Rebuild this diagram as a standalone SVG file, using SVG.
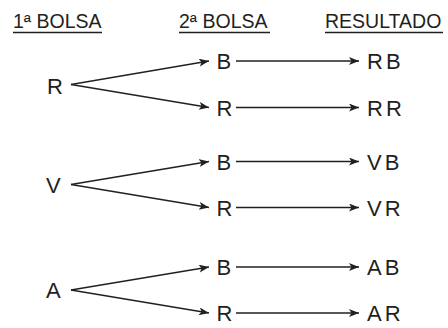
<svg xmlns="http://www.w3.org/2000/svg" width="448" height="328" viewBox="0 0 448 328">
<defs>
<style>
.h{font-family:"Liberation Sans",Arial,sans-serif;font-size:19.5px;fill:#231f20}
.n{font-family:"Liberation Sans",Arial,sans-serif;font-size:22px;fill:#231f20}
.r{letter-spacing:3px}
.u{stroke:#231f20;stroke-width:1.3}
.e{stroke:#231f20;stroke-width:1.3;fill:none;marker-end:url(#ah)}
</style>
<marker id="ah" markerUnits="userSpaceOnUse" markerWidth="11" markerHeight="9" refX="10" refY="4" orient="auto">
<path d="M0,0 L10,4 L0,8 L2.5,4 z" fill="#231f20"/>
</marker>
</defs>
<g id="headers">
<text class="h" x="13" y="28">1ª BOLSA</text>
<line class="u" x1="13" y1="32.5" x2="102" y2="32.5"/>
<text class="h" x="179" y="28">2ª BOLSA</text>
<line class="u" x1="179" y1="32.5" x2="270" y2="32.5"/>
<text class="h" x="325" y="28">RESULTADO</text>
<line class="u" x1="325" y1="32.5" x2="443" y2="32.5"/>
</g>
<g id="connectors">
<line class="e" x1="71" y1="84.5" x2="209" y2="61"/>
<line class="e" x1="71" y1="84.5" x2="209" y2="107.5"/>
<line class="e" x1="236" y1="61" x2="359" y2="61"/>
<line class="e" x1="236" y1="107.5" x2="359" y2="107.5"/>
<line class="e" x1="71" y1="184.5" x2="209" y2="161.5"/>
<line class="e" x1="71" y1="184.5" x2="209" y2="207.5"/>
<line class="e" x1="236" y1="161.5" x2="359" y2="161.5"/>
<line class="e" x1="236" y1="207.5" x2="359" y2="207.5"/>
<line class="e" x1="71" y1="290" x2="209" y2="267"/>
<line class="e" x1="71" y1="290" x2="209" y2="313"/>
<line class="e" x1="236" y1="267" x2="359" y2="267"/>
<line class="e" x1="236" y1="313" x2="359" y2="313"/>
</g>
<g id="n-R"><text class="n" x="47" y="94">R</text></g>
<g id="n-R-B"><text class="n" x="216.5" y="69">B</text></g>
<g id="n-R-R"><text class="n" x="216.5" y="115.5">R</text></g>
<g id="n-RB"><text class="n r" x="367" y="69">RB</text></g>
<g id="n-RR"><text class="n r" x="367" y="115.5">RR</text></g>
<g id="n-V"><text class="n" x="46" y="192.5">V</text></g>
<g id="n-V-B"><text class="n" x="216.5" y="169.5">B</text></g>
<g id="n-V-R"><text class="n" x="216.5" y="215.5">R</text></g>
<g id="n-VB"><text class="n r" x="367" y="169.5">VB</text></g>
<g id="n-VR"><text class="n r" x="367" y="215.5">VR</text></g>
<g id="n-A"><text class="n" x="46" y="298">A</text></g>
<g id="n-A-B"><text class="n" x="216.5" y="275">B</text></g>
<g id="n-A-R"><text class="n" x="216.5" y="321">R</text></g>
<g id="n-AB"><text class="n r" x="367" y="275">AB</text></g>
<g id="n-AR"><text class="n r" x="367" y="321">AR</text></g>
</svg>
